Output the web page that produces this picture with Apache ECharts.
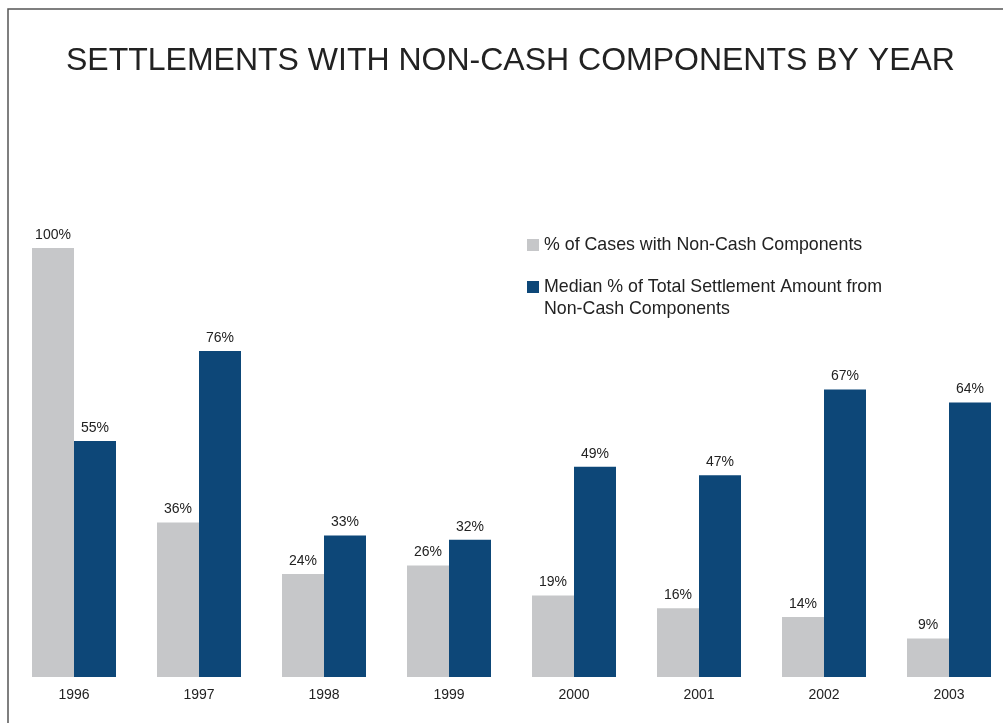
<!DOCTYPE html>
<html>
<head>
<meta charset="utf-8">
<script src="https://cdn.jsdelivr.net/npm/echarts@6/dist/echarts.min.js"></script>
<style>
html,body{margin:0;padding:0;background:#fff;overflow:hidden;}
#c{width:1030px;height:723px;}
</style>
</head>
<body>
<div id="c"></div>
<script>
const years = ['1996','1997','1998','1999','2000','2001','2002','2003'];
const casesPct = [100, 36, 24, 26, 19, 16, 14, 9];
const medianPct = [55, 76, 33, 32, 49, 47, 67, 64];
const seriesNames = ['% of Cases with Non-Cash Components', 'Median % of Total Settlement Amount from\nNon-Cash Components'];
const titleText = 'SETTLEMENTS WITH NON-CASH COMPONENTS BY YEAR';

const chart = echarts.init(document.getElementById('c'), null, {renderer: 'canvas'});
const FONT = 'Liberation Sans, Arial, Helvetica, sans-serif';
const labelStyle = {show: true, position: 'top', distance: 6, formatter: '{c}%', color: '#222', fontSize: 14, fontFamily: FONT};

chart.setOption({
  animation: false,
  backgroundColor: '#fff',
  title: {
    text: titleText,
    left: 66,
    top: 45,
    padding: 0,
    textStyle: {fontFamily: FONT, fontSize: 32, fontWeight: 'normal', color: '#222'}
  },
  graphic: [{
    type: 'rect',
    shape: {x: 8, y: 9, width: 1200, height: 900},
    style: {fill: 'none', stroke: '#555', lineWidth: 1.5},
    silent: true
  }],
  legend: [{
    data: [seriesNames[0]],
    left: 527, top: 234, padding: 0,
    icon: 'rect', itemWidth: 12, itemHeight: 12,
    textStyle: {fontFamily: FONT, fontSize: 17.8, color: '#222', lineHeight: 22}
  }, {
    data: [seriesNames[1]],
    left: 527, top: 254, padding: 0,
    icon: 'rect', itemWidth: 12, itemHeight: 12,
    formatter: function (n) { return ' \n' + n; },
    textStyle: {fontFamily: FONT, fontSize: 17.8, color: '#222', lineHeight: 22}
  }],
  grid: {left: 11.5, width: 1000, top: 248, bottom: 46, containLabel: false},
  xAxis: {
    type: 'category',
    data: years,
    axisLine: {show: false},
    axisTick: {show: false},
    axisLabel: {margin: 11, color: '#222', fontSize: 14, fontFamily: FONT}
  },
  yAxis: {
    type: 'value', min: 0, max: 100,
    show: false,
    splitLine: {show: false}
  },
  series: [{
    name: seriesNames[0], type: 'bar', data: casesPct,
    itemStyle: {color: '#C6C7C9'},
    barGap: '0%', barCategoryGap: '32.8%',
    label: labelStyle
  }, {
    name: seriesNames[1], type: 'bar', data: medianPct,
    itemStyle: {color: '#0D4778'},
    barGap: '0%', barCategoryGap: '32.8%',
    label: labelStyle
  }]
});
</script>
</body>
</html>
